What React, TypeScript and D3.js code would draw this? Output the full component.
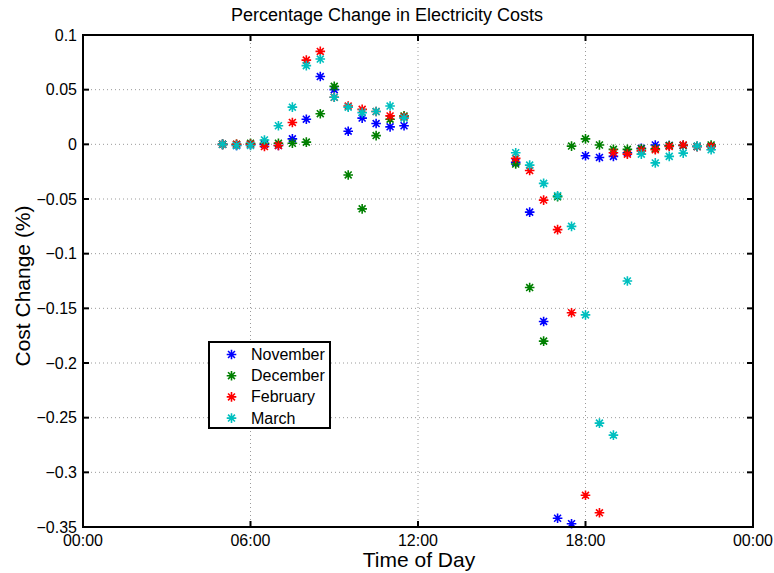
import React from "react";
import * as d3 from "d3";

const times = [5, 5.5, 6, 6.5, 7, 7.5, 8, 8.5, 9, 9.5, 10, 10.5, 11, 11.5, 15.5, 16, 16.5, 17, 17.5, 18, 18.5, 19, 19.5, 20, 20.5, 21, 21.5, 22, 22.5];
const november = [0, -0.001, 0, 0, -0.001, 0.005, 0.023, 0.062, 0.05, 0.012, 0.024, 0.019, 0.016, 0.017, -0.0165, -0.062, -0.162, -0.342, -0.347, -0.0104, -0.012, -0.011, -0.0077, -0.0037, -0.0006, -0.001, -0.001, -0.002, -0.002];
const december = [0, 0, 0.001, 0.001, 0.001, 0.001, 0.002, 0.028, 0.053, -0.028, -0.059, 0.008, 0.023, 0.026, -0.018, -0.131, -0.18, -0.048, -0.0016, 0.005, -0.0006, -0.0046, -0.0046, -0.004, -0.004, -0.001, -0.001, -0.002, -0.0006];
const february = [0, 0, 0, -0.002, -0.001, 0.02, 0.077, 0.085, 0.043, 0.035, 0.032, 0.03, 0.026, 0.025, -0.0128, -0.024, -0.051, -0.078, -0.154, -0.321, -0.337, -0.0077, -0.009, -0.006, -0.005, -0.002, -0.0006, -0.002, -0.002];
const march = [0, -0.001, -0.001, 0.004, 0.017, 0.034, 0.072, 0.078, 0.043, 0.034, 0.029, 0.03, 0.035, 0.024, -0.0077, -0.019, -0.0357, -0.047, -0.075, -0.156, -0.255, -0.266, -0.125, -0.009, -0.017, -0.011, -0.008, -0.0016, -0.005];

const seriesNames = ["November", "December", "February", "March"];
const seriesColors = ["#0000ff", "#008000", "#ff0000", "#00bfbf"];
const seriesValues = [november, december, february, march];

const xTicks = [0, 6, 12, 18, 24];
const xTickLabels = ["00:00", "06:00", "12:00", "18:00", "00:00"];
const yTicks = [0.1, 0.05, 0, -0.05, -0.1, -0.15, -0.2, -0.25, -0.3, -0.35];
const yTickLabels = ["0.1", "0.05", "0", "\u22120.05", "\u22120.1", "\u22120.15", "\u22120.2", "\u22120.25", "\u22120.3", "\u22120.35"];

const W = 774, H = 573;
const L = 83, R = 753, T = 35, B = 527;
const FONT = "'Liberation Sans', Arial, Helvetica, sans-serif";

function starPath(cx: number, cy: number, r: number) {
  const d = r * 0.72;
  return `M${cx - r},${cy}L${cx + r},${cy}M${cx},${cy - r}L${cx},${cy + r}M${cx - d},${cy - d}L${cx + d},${cy + d}M${cx - d},${cy + d}L${cx + d},${cy - d}`;
}

export default function App() {
  const x = d3.scaleLinear().domain([0, 24]).range([L, R]);
  const y = d3.scaleLinear().domain([-0.35, 0.1]).range([B, T]);
  const tick = 6;
  return (
    <svg width={W} height={H} style={{ position: "absolute", left: 0, top: 0, background: "#fff" }} fontFamily={FONT}>
      <rect x={0} y={0} width={W} height={H} fill="#fff" />
      {xTicks.slice(1, -1).map((t) => (
        <line key={"gx" + t} x1={x(t)} x2={x(t)} y1={T} y2={B} stroke="#9a9a9a" strokeWidth={1} strokeDasharray="1,3" />
      ))}
      {yTicks.slice(1, -1).map((t) => (
        <line key={"gy" + t} x1={L} x2={R} y1={y(t)} y2={y(t)} stroke="#9a9a9a" strokeWidth={1} strokeDasharray="1,3" />
      ))}
      {xTicks.map((t) => (
        <g key={"tx" + t}>
          <line x1={x(t)} x2={x(t)} y1={B} y2={B - tick} stroke="#000" strokeWidth={2} />
          <line x1={x(t)} x2={x(t)} y1={T} y2={T + tick} stroke="#000" strokeWidth={2} />
        </g>
      ))}
      {yTicks.map((t) => (
        <g key={"ty" + t}>
          <line x1={L} x2={L + tick} y1={y(t)} y2={y(t)} stroke="#000" strokeWidth={2} />
          <line x1={R} x2={R - tick} y1={y(t)} y2={y(t)} stroke="#000" strokeWidth={2} />
        </g>
      ))}
      {seriesValues.map((vals, si) => (
        <path
          key={"s" + si}
          d={vals.map((v, i) => starPath(x(times[i]), y(v), 4.8)).join("")}
          stroke={seriesColors[si]}
          strokeWidth={1.6}
          fill="none"
        />
      ))}
      <rect x={L} y={T} width={R - L} height={B - T} fill="none" stroke="#000" strokeWidth={2} />
      {xTicks.map((t, i) => (
        <text key={"lx" + i} x={x(t)} y={B + 19} textAnchor="middle" fontSize={16} fill="#000">
          {xTickLabels[i]}
        </text>
      ))}
      {yTicks.map((t, i) => (
        <text key={"ly" + i} x={L - 6} y={y(t) + 5.7} textAnchor="end" fontSize={16} fill="#000">
          {yTickLabels[i]}
        </text>
      ))}
      <text x={W / 2} y={21} textAnchor="middle" fontSize={18} fill="#000">
        Percentage Change in Electricity Costs
      </text>
      <text x={(L + R) / 2 + 1} y={566.5} textAnchor="middle" fontSize={21} fill="#000">
        Time of Day
      </text>
      <text transform={`translate(30,${(T + B) / 2 + 5}) rotate(-90)`} textAnchor="middle" fontSize={21} fill="#000">
        Cost Change (%)
      </text>
      <rect x={209} y={342} width={121} height={86} fill="#fff" stroke="#000" strokeWidth={2} />
      {seriesNames.map((n, i) => (
        <g key={"lg" + i}>
          <path d={starPath(231.5, 354.5 + i * 21.2, 4.8)} stroke={seriesColors[i]} strokeWidth={1.6} fill="none" />
          <text x={251} y={354.5 + i * 21.2 + 5.5} fontSize={16} fill="#000">
            {n}
          </text>
        </g>
      ))}
    </svg>
  );
}
